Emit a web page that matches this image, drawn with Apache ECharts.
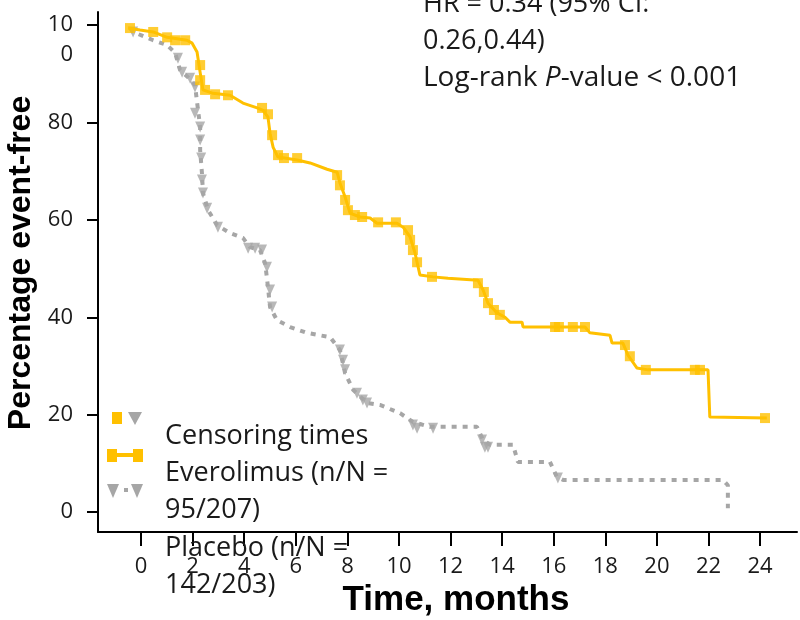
<!DOCTYPE html>
<html>
<head>
<meta charset="utf-8">
<script src="https://cdn.jsdelivr.net/npm/echarts@6/dist/echarts.min.js"></script>
<style>
  html, body { margin: 0; padding: 0; background: #fff; }
  #chart { width: 800px; height: 620px; }
</style>
</head>
<body>
<div id="chart"></div>
<script>
// Kaplan-Meier curves: [month, percent]
var everolimusCurve = [
  [-0.5, 99.4], [-0.04, 99.0], [0.47, 98.6], [1.01, 97.5], [1.78, 96.9], [1.98, 96.3],
  [2.17, 94.5], [2.29, 90.3], [2.40, 86.7], [2.79, 86.0], [3.45, 85.6], [3.95, 84.0],
  [4.50, 83.0], [4.73, 82.5], [4.92, 81.1], [5.00, 77.8], [5.12, 74.9], [5.31, 72.9],
  [6.05, 72.3], [6.55, 71.7], [7.21, 70.4], [7.60, 69.8], [7.71, 67.6], [7.91, 64.7],
  [8.10, 61.4], [8.49, 60.6], [8.88, 60.4], [9.15, 59.3], [9.92, 59.3], [10.16, 58.5],
  [10.43, 56.5], [10.62, 53.2], [10.81, 48.7], [11.32, 48.3], [11.90, 48.0], [13.06, 47.6],
  [13.26, 45.6], [13.45, 42.9], [13.80, 40.9], [14.11, 40.0], [14.30, 39.0], [14.77, 39.0],
  [14.81, 38.0], [17.21, 38.0], [17.40, 36.8], [18.18, 36.3], [18.26, 34.7], [18.68, 34.7],
  [18.88, 32.2], [19.22, 29.6], [19.65, 29.2], [21.98, 29.2], [22.05, 19.5], [24.26, 19.3]
];
var everolimusCensor = [
  [-0.43, 99.4], [0.47, 98.6], [1.01, 97.5], [1.32, 96.9], [1.71, 96.9], [2.29, 91.8],
  [2.29, 88.7], [2.48, 86.7], [2.87, 85.8], [3.37, 85.6], [4.69, 83.0], [4.92, 81.7],
  [5.08, 77.4], [5.31, 73.3], [5.54, 72.7], [6.05, 72.7], [7.60, 69.2], [7.71, 67.1],
  [7.91, 64.1], [8.02, 62.0], [8.29, 61.0], [8.57, 60.6], [9.19, 59.5], [9.88, 59.5],
  [10.35, 57.9], [10.43, 55.9], [10.54, 53.8], [10.70, 51.3], [11.28, 48.3], [13.06, 47.0],
  [13.29, 45.2], [13.45, 42.9], [13.68, 41.5], [13.91, 40.5], [16.05, 38.0], [16.2, 38.0],
  [16.74, 38.0], [17.21, 38.0], [18.76, 34.3], [18.95, 32.0], [19.57, 29.2], [21.47, 29.2],
  [21.67, 29.2], [24.19, 19.3]
];
var placeboCurve = [
  [-0.43, 99.4], [-0.31, 98.6], [0.47, 96.9], [1.01, 95.9], [1.32, 94.3], [1.51, 90.8],
  [1.82, 89.3], [2.09, 87.7], [2.17, 84.2], [2.29, 79.1], [2.29, 74.3], [2.36, 69.6],
  [2.40, 65.5], [2.60, 62.0], [2.95, 58.9], [3.45, 57.3], [3.95, 56.3], [4.22, 54.4],
  [4.61, 53.8], [4.81, 51.1], [4.92, 46.2], [5.00, 42.1], [5.27, 39.4], [5.78, 38.0],
  [6.43, 36.8], [7.33, 35.9], [7.71, 33.3], [7.91, 28.5], [8.22, 25.1], [8.76, 22.4],
  [9.26, 22.0], [10.04, 20.3], [10.54, 18.5], [11.20, 17.5], [13.02, 17.5], [13.26, 14.8],
  [13.53, 13.8], [14.42, 13.8], [14.61, 10.3], [15.85, 10.3], [16.12, 7.2], [16.36, 6.6],
  [22.56, 6.6], [22.75, 5.5], [22.75, 0.8]
];
var placeboCensor = [
  [-0.31, 98.6], [1.43, 93.2], [1.59, 90.3], [1.90, 89.1], [2.09, 87.3], [2.09, 81.9],
  [2.29, 79.1], [2.29, 76.4], [2.33, 72.7], [2.36, 68.2], [2.40, 65.5], [2.56, 62.4],
  [2.98, 58.5], [4.15, 54.2], [4.42, 54.2], [4.69, 53.8], [4.88, 50.3], [5.00, 45.6],
  [5.08, 42.1], [7.71, 33.3], [7.83, 31.2], [7.91, 29.2], [8.37, 24.4], [8.60, 23.0],
  [8.76, 22.4], [10.54, 17.9], [10.70, 17.2], [11.32, 17.2], [13.22, 14.8], [13.33, 13.3],
  [13.45, 13.3], [16.16, 7.0]
];
var xTicks = [0, 2, 4, 6, 8, 10, 12, 14, 16, 18, 20, 22, 24];
var yTicks = [0, 20, 40, 60, 80, 100];

var orange = '#FFC000';
var grey = '#A6A6A6';
var textColor = '#1a1a1a';
var labelFont = 'Open Sans';

function txt(x, y, s) {
  return {
    type: 'text', x: x, y: y, z: 10,
    style: { text: s, fontFamily: labelFont, fontSize: 27, fill: textColor, verticalAlign: 'middle' }
  };
}

var chart = echarts.init(document.getElementById('chart'));

var option = {
  animation: false,
  grid: { left: 98, right: 3, top: 12, bottom: 88, containLabel: false, outerBoundsMode: 'none' },
  xAxis: {
    type: 'value',
    min: -1.67,
    max: 25.43,
    name: 'Time, months',
    nameLocation: 'middle',
    nameGap: 50,
    nameTextStyle: {
      fontFamily: 'Liberation Sans', fontWeight: 'bold', fontSize: 35, color: '#000',
      padding: [0, 0, 0, 17]
    },
    axisLine: { onZero: false, lineStyle: { color: '#000', width: 2 } },
    axisTick: { customValues: xTicks, length: 14, lineStyle: { color: '#000', width: 2 } },
    axisLabel: { customValues: xTicks, fontFamily: labelFont, fontSize: 22, color: textColor, margin: 24 },
    splitLine: { show: false }
  },
  yAxis: {
    type: 'value',
    min: -4.1,
    max: 102.7,
    name: 'Percentage event-free',
    nameLocation: 'middle',
    nameGap: 43,
    nameTextStyle: {
      fontFamily: 'Liberation Sans', fontWeight: 'bold', fontSize: 32, color: '#000',
      padding: [0, 0, 0, 18]
    },
    axisLine: { show: true, onZero: false, lineStyle: { color: '#000', width: 2 } },
    axisTick: { show: true, customValues: yTicks, length: 11, lineStyle: { color: '#000', width: 2 } },
    axisLabel: {
      customValues: yTicks, fontFamily: labelFont, fontSize: 22, color: textColor, margin: 25,
      lineHeight: 30,
      formatter: function (v) { return v === 100 ? ' \n10\n0' : String(v); }
    },
    splitLine: { show: false }
  },
  series: [
    {
      name: 'Placebo', type: 'line', data: placeboCurve, showSymbol: false, z: 2,
      lineStyle: { color: grey, width: 4, type: [5, 6] }
    },
    {
      name: 'Placebo censored', type: 'scatter', data: placeboCensor, symbol: 'triangle',
      symbolRotate: 180, symbolSize: [10, 11], itemStyle: { color: grey }, z: 3
    },
    {
      name: 'Everolimus', type: 'line', data: everolimusCurve, showSymbol: false, z: 4,
      lineStyle: { color: orange, width: 3 }
    },
    {
      name: 'Everolimus censored', type: 'scatter', data: everolimusCensor, symbol: 'rect',
      symbolSize: 10, itemStyle: { color: orange }, z: 5
    }
  ],
  graphic: [
    // annotation top right
    txt(423, 4, 'HR = 0.34 (95% CI:'),
    txt(423, 41, '0.26,0.44)'),
    { type: 'text', x: 423, y: 78, z: 10,
      style: {
        text: '{n|Log-rank }{i|P}{n|-value < 0.001}',
        verticalAlign: 'middle',
        rich: {
          n: { fontFamily: labelFont, fontSize: 28, fill: textColor },
          i: { fontFamily: labelFont, fontSize: 28, fontStyle: 'italic', fill: textColor }
        }
      } },
    // legend markers
    { type: 'rect', shape: { x: 112, y: 412, width: 10, height: 12 }, style: { fill: orange }, z: 10 },
    { type: 'polygon', shape: { points: [[128, 412], [142, 412], [135, 425]] }, style: { fill: grey }, z: 10 },
    { type: 'line', shape: { x1: 110, y1: 455, x2: 140, y2: 455 }, style: { stroke: orange, lineWidth: 4 }, z: 10 },
    { type: 'rect', shape: { x: 107, y: 449, width: 10, height: 13 }, style: { fill: orange }, z: 10 },
    { type: 'rect', shape: { x: 133, y: 449, width: 10, height: 13 }, style: { fill: orange }, z: 10 },
    { type: 'polygon', shape: { points: [[107, 484], [119, 484], [113, 498]] }, style: { fill: grey }, z: 10 },
    { type: 'rect', shape: { x: 124, y: 488, width: 4, height: 4 }, style: { fill: grey }, z: 10 },
    { type: 'polygon', shape: { points: [[131, 484], [143, 484], [137, 498]] }, style: { fill: grey }, z: 10 },
    // legend texts
    txt(165, 436, 'Censoring times'),
    txt(165, 473, 'Everolimus (n/N ='),
    txt(165, 510, '95/207)'),
    txt(165, 548, 'Placebo (n/N ='),
    txt(165, 585, '142/203)')
  ]
};

chart.setOption(option);
</script>
</body>
</html>
